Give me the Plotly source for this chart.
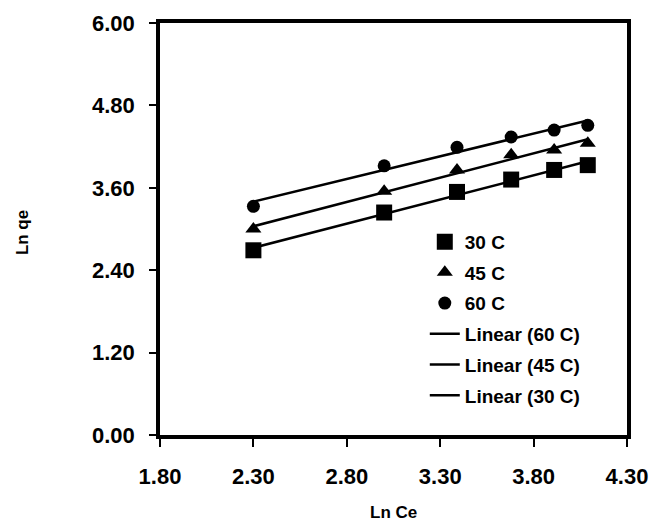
import numpy as np
import plotly.graph_objects as go

ln_ce = [2.30, 3.00, 3.39, 3.68, 3.91, 4.09]
qe_30 = [2.69, 3.24, 3.54, 3.72, 3.86, 3.93]
qe_45 = [3.00, 3.55, 3.86, 4.08, 4.15, 4.25]
qe_60 = [3.33, 3.92, 4.19, 4.34, 4.44, 4.51]

series_names = ["30 C", "45 C", "60 C"]
series_vals = [qe_30, qe_45, qe_60]
symbols = ["square", "triangle-up", "circle"]
sizes = [16, 14, 13]

FONT = "Liberation Sans, Arial, sans-serif"

fig = go.Figure()

# scatter points
for i, (name, vals) in enumerate(zip(series_names, series_vals)):
    fig.add_trace(go.Scatter(
        x=ln_ce, y=vals, mode="markers", name=name,
        marker=dict(symbol=symbols[i], size=sizes[i], color="black"),
        legendgroup="g%d" % i,
    ))

# linear trendlines (order: 60, 45, 30)
for j, idx in enumerate([2, 1, 0]):
    vals = series_vals[idx]
    m, c = np.polyfit(ln_ce, vals, 1)
    xs = [min(ln_ce), max(ln_ce)]
    ys = [m * x + c for x in xs]
    fig.add_trace(go.Scatter(
        x=xs, y=ys, mode="lines", name="Linear (%s)" % series_names[idx],
        line=dict(color="black", width=2.5),
        legendgroup="l%d" % j,
    ))

fig.update_layout(
    width=653, height=523,
    margin=dict(l=160, r=26, t=23, b=88, autoexpand=False),
    paper_bgcolor="white", plot_bgcolor="white",
    font=dict(family=FONT, color="black", weight="bold"),
    showlegend=True,
    legend=dict(
        x=0.567, y=0.515, xanchor="left", yanchor="top",
        bgcolor="rgba(0,0,0,0)", font=dict(size=19, family=FONT, weight="bold"),
        traceorder="grouped", tracegroupgap=3,
    ),
    annotations=[
        dict(text="Ln Ce", xref="paper", yref="paper", x=0.501, y=0,
             xanchor="center", yanchor="middle", yshift=-77, showarrow=False,
             font=dict(size=17, family=FONT, weight="bold")),
        dict(text="Ln qe", xref="paper", yref="paper", x=0, y=0.49,
             xanchor="center", yanchor="middle", xshift=-138, textangle=-90,
             showarrow=False, font=dict(size=17, family=FONT, weight="bold")),
    ],
)

fig.update_xaxes(
    range=[1.8, 4.3], tick0=1.8, dtick=0.5, tickformat=".2f",
    showgrid=False, zeroline=False, automargin=False,
    showline=True, linecolor="black", linewidth=3.5, mirror=True,
    ticks="outside", ticklen=8, tickwidth=1.5, tickcolor="black",
    tickfont=dict(size=22, family=FONT, weight="bold"),
    ticklabelstandoff=11,
)
fig.update_yaxes(
    range=[0, 6], tick0=0, dtick=1.2, tickformat=".2f",
    showgrid=False, zeroline=False, automargin=False,
    showline=True, linecolor="black", linewidth=3.5, mirror=True,
    ticks="outside", ticklen=7, tickwidth=1.5, tickcolor="black",
    tickfont=dict(size=22, family=FONT, weight="bold"),
    ticklabelstandoff=10,
)

fig.write_html("out.html", config={"displayModeBar": False},
               post_script="document.body.style.margin='0';")
